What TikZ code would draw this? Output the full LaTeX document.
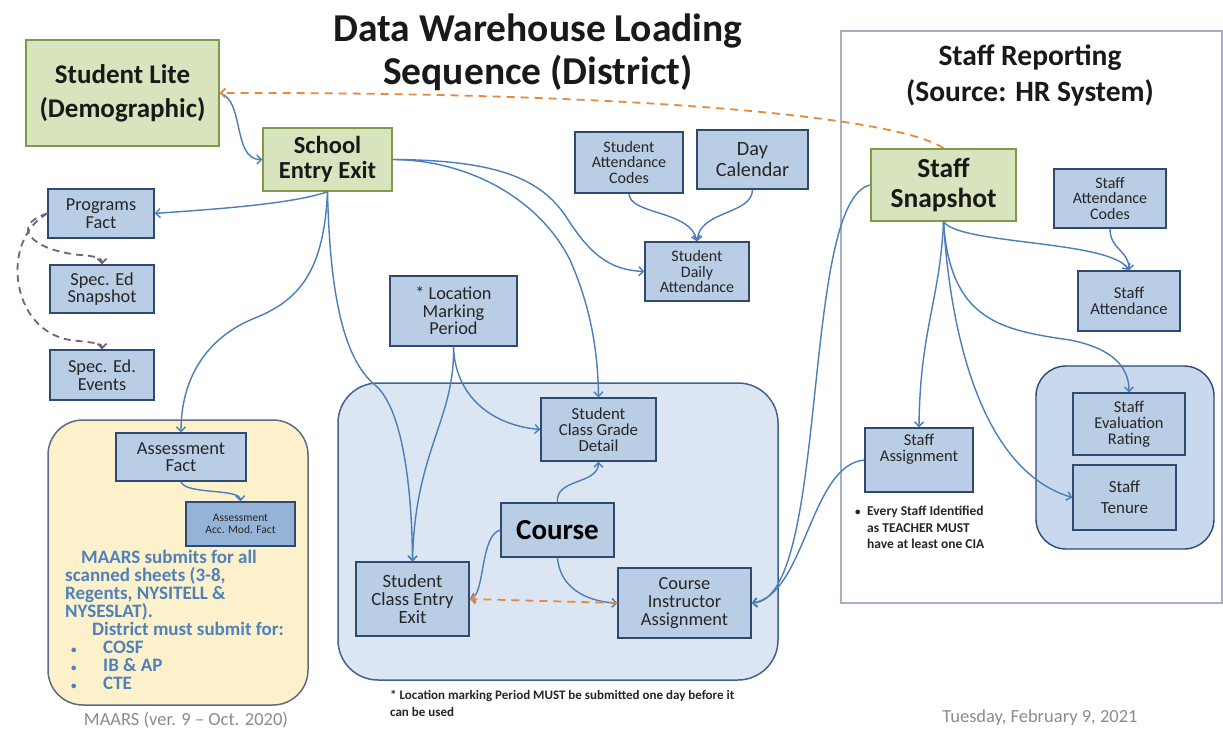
\documentclass[tikz,border=0pt]{standalone}
\usepackage{fontspec}
\setmainfont{Carlito}
\usetikzlibrary{arrows.meta}
\definecolor{gfill}{HTML}{D7E4BD}
\definecolor{gdraw}{HTML}{7F9B4A}
\definecolor{bfill}{HTML}{B9CDE5}
\definecolor{bdraw}{HTML}{2E4A72}
\definecolor{afill}{HTML}{95B3D7}
\definecolor{cpfill}{HTML}{DCE6F2}
\definecolor{cpdraw}{HTML}{43638F}
\definecolor{ypfill}{HTML}{FDF1CB}
\definecolor{ypdraw}{HTML}{5B6B80}
\definecolor{spfill}{HTML}{C8D8ED}
\definecolor{srdraw}{HTML}{A7AFC8}
\definecolor{conncol}{HTML}{4A7EBB}
\definecolor{orangec}{HTML}{E8883A}
\definecolor{purplec}{HTML}{76607F}
\definecolor{maarsc}{HTML}{4F81BD}
\definecolor{footc}{HTML}{8C8C8C}
\newcommand\fsz[2]{\fontsize{#1}{#2}\selectfont}
\newcommand\smallbul{{\fontsize{11}{11}\selectfont •}}
\begin{document}
\begin{tikzpicture}[x=1pt,y=-1pt,
  bbox/.style={draw=bdraw, fill=bfill, line width=1.4pt, inner sep=0pt, align=center, text=black!85},
  gbox/.style={draw=gdraw, fill=gfill, line width=1.4pt, inner sep=0pt, align=center, text=black!90},
  conn/.style={draw=conncol, line width=1.4pt, -{Straight Barb[length=4.5pt,width=9pt]}},
  odash/.style={draw=orangec, line width=1.8pt, dash pattern=on 8pt off 6pt, -{Straight Barb[length=4.5pt,width=9pt]}},
  pdash/.style={draw=purplec, line width=1.8pt, dash pattern=on 7pt off 5pt, -{Straight Barb[length=4.5pt,width=9pt]}},
  note/.style={inner sep=0pt, align=left, text=black!85},
  foot/.style={inner sep=0pt, text=footc, font=\fsz{18.5}{20}},
  heading/.style={inner sep=0pt, align=center, text=black!90},
]
\useasboundingbox (0,0) rectangle (1223,731);
\fill[white] (0,0) rectangle (1223,731);

% title
\node[heading, font=\bfseries\fsz{39.5}{43}] (title) at (538,52) {Data Warehouse Loading\\Sequence (District)};

% panels
\node[draw=ypdraw, fill=ypfill, line width=1.5pt, rounded corners=35pt, minimum width=260, minimum height=285, inner sep=0] (assesspanel) at (178,562.5) {};
\node[draw=cpdraw, fill=cpfill, line width=1.5pt, rounded corners=40pt, minimum width=440, minimum height=297, inner sep=0] (coursepanel) at (558,531.5) {};
\node[draw=srdraw, fill=white, line width=1.2pt, minimum width=381, minimum height=572, inner sep=0] (staffpanel) at (1031.5,317) {};
\node[draw=bdraw, fill=spfill, line width=1.4pt, rounded corners=30pt, minimum width=178, minimum height=183, inner sep=0] (evalpanel) at (1125,457.5) {};

% left side
\node[gbox, minimum width=193, minimum height=106, font=\bfseries\fsz{27}{34}] (stulite) at (122.5,93) {Student Lite\\(Demographic)};
\node[gbox, minimum width=129, minimum height=63, font=\bfseries\fsz{24.5}{25}] (see) at (327.5,159.5) {School\\Entry Exit};
\node[bbox, minimum width=106, minimum height=49, font=\fsz{18.3}{17.5}] (prog) at (101,213.5) {Programs\\Fact};
\node[bbox, minimum width=104, minimum height=48, font=\fsz{18.3}{17.5}] (specsnap) at (102,289) {Spec. Ed\\Snapshot};
\node[bbox, minimum width=104, minimum height=50, font=\fsz{18.3}{17.5}] (specev) at (102,375) {Spec. Ed.\\Events};
\node[bbox, minimum width=130, minimum height=48, font=\fsz{18.4}{17.5}] (assess) at (181,457) {Assessment\\Fact};
\node[bbox, fill=afill, minimum width=109, minimum height=44, font=\fsz{11.5}{12.5}] (accmod) at (240.5,524) {Assessment\\Acc. Mod. Fact};
\node[note, anchor=north west, font=\bfseries\fsz{19}{18}, text=maarsc] (maarsnote) at (65,550)
  {\hspace{16pt}MAARS submits for all\\scanned sheets (3-8,\\Regents, NYSITELL \&\\NYSESLAT).\\\hspace{27pt}District must submit for:\\\hspace{6pt}\makebox[32pt][l]{\smallbul}COSF\\\hspace{6pt}\makebox[32pt][l]{\smallbul}IB \& AP\\\hspace{6pt}\makebox[32pt][l]{\smallbul}CTE};
\node[foot] (maarsfoot) at (186,720) {MAARS (ver. 9 – Oct. 2020)};

% middle
\node[bbox, minimum width=127, minimum height=70, font=\fsz{18.3}{17.5}] (loc) at (453.5,311) {* Location\\Marking\\Period};
\node[bbox, minimum width=115, minimum height=63, font=\fsz{16.8}{16.2}] (grade) at (598.5,429.5) {Student\\Class Grade\\Detail};
\node[bbox, minimum width=113, minimum height=54, font=\bfseries\fsz{29}{30}, text=black] (course) at (557.5,530) {Course};
\node[bbox, minimum width=113, minimum height=74, font=\fsz{18.7}{17.8}] (scee) at (412.5,599) {Student\\Class Entry\\Exit};
\node[bbox, minimum width=133, minimum height=70, font=\fsz{18.4}{17.8}] (cia) at (684.5,603) {Course\\Instructor\\Assignment};
\node[bbox, minimum width=108, minimum height=61, font=\fsz{16}{15.8}] (sac) at (629,162.5) {Student\\Attendance\\Codes};
\node[bbox, minimum width=111, minimum height=59, font=\fsz{20.3}{21}] (day) at (752.5,159.5) {Day\\Calendar};
\node[bbox, minimum width=104, minimum height=59, font=\fsz{16}{15.8}] (sda) at (697,271.5) {Student\\Daily\\Attendance};
\node[note, anchor=north west, font=\bfseries\fsz{13}{17}] (locnote) at (390,690) {* Location marking Period MUST be submitted one day before it\\can be used};

% staff side
\node[heading, font=\bfseries\fsz{29.5}{36}] (stafftitle) at (1030,75) {Staff Reporting\\(Source: HR System)};
\node[gbox, minimum width=145, minimum height=72, font=\bfseries\fsz{27.5}{30}] (ssnap) at (943.5,185) {Staff\\Snapshot};
\node[bbox, minimum width=112, minimum height=59, font=\fsz{16}{15.8}] (stac) at (1110,198.5) {Staff\\Attendance\\Codes};
\node[bbox, minimum width=102, minimum height=60, font=\fsz{16.6}{16.5}] (statt) at (1129,301) {Staff\\Attendance};
\node[bbox, minimum width=108, minimum height=64] (sassign) at (919,460) {};
\node[inner sep=0pt, align=center, text=black!85, font=\fsz{16.5}{16.5}] (sassigntxt) at (919,449) {Staff\\Assignment};
\node[bbox, minimum width=112, minimum height=62, font=\fsz{16.4}{16}] (seval) at (1129,424) {Staff\\Evaluation\\Rating};
\node[bbox, minimum width=103, minimum height=65, font=\fsz{17}{21}] (sten) at (1124.5,497.5) {Staff\\Tenure};
\node[note, anchor=north west, font=\bfseries\fsz{13.5}{16.5}] (staffnote) at (855,506) {\makebox[12pt][l]{\smallbul}Every Staff Identified\\\hspace{12pt}as TEACHER MUST\\\hspace{12pt}have at least one CIA};
\node[foot] (datefoot) at (1040,718) {Tuesday, February 9, 2021};

% connectors
\draw[conn] (stulite.east) .. controls (245,100) and (232,160) .. (see.west);
\draw[odash] (ssnap.north) .. controls (900,118) and (650,92) .. (stulite.east);
\draw[conn] (see.south) .. controls (290,205) and (200,210) .. (prog.east);
\draw[conn] (see.south) .. controls (324,270) and (300,300) .. (255,318) .. controls (205,338) and (181,380) .. (assess.north);
\draw[conn] (see.south) .. controls (330,300) and (345,360) .. (375,385) .. controls (405,410) and (412,500) .. (scee.north);
\draw[conn] (loc.south) .. controls (455,420) and (415,450) .. (scee.north);
\draw[conn] (loc.south) .. controls (455,395) and (490,425) .. (grade.west);
\draw[conn] (see.east) .. controls (500,160) and (540,180) .. (565,215) .. controls (590,255) and (610,270) .. (sda.west);
\draw[conn] (see.east) .. controls (470,160) and (540,200) .. (570,260) .. controls (590,305) and (598,350) .. (grade.north);
\draw[conn] (sac.south) .. controls (630,215) and (690,210) .. (sda.north);
\draw[conn] (day.south) .. controls (752,215) and (700,210) .. (sda.north);
\draw[conn] (course.north) .. controls (555,478) and (598,485) .. (grade.south);
\draw[conn] (course.west) .. controls (480,535) and (485,595) .. (scee.east);
\draw[conn] (course.south) .. controls (560,590) and (590,602) .. (cia.west);
\draw[odash] (cia.west) -- (scee.east);
\draw[conn] (ssnap.west) .. controls (800,200) and (830,600) .. (cia.east);
\draw[conn] (sassign.west) .. controls (810,465) and (805,595) .. (cia.east);
\draw[conn] (ssnap.south) .. controls (940,300) and (920,330) .. (sassign.north);
\draw[conn] (ssnap.south) .. controls (960,245) and (1110,240) .. (statt.north);
\draw[conn] (stac.south) .. controls (1110,250) and (1129,250) .. (statt.north);
\draw[conn] (ssnap.south) .. controls (950,320) and (1000,330) .. (1070,340) .. controls (1110,348) and (1129,365) .. (seval.north);
\draw[conn] (ssnap.south) .. controls (950,330) and (980,470) .. (sten.west);
\draw[pdash] (prog.west) .. controls (10,225) and (30,250) .. (80,255) .. controls (95,256) and (102,258) .. (specsnap.north);
\draw[pdash] (prog.west) .. controls (0,240) and (10,330) .. (70,340) .. controls (95,343) and (102,343) .. (specev.north);
\draw[conn] (assess.south) .. controls (185,495) and (240,488) .. (accmod.north);
\end{tikzpicture}
\end{document}
